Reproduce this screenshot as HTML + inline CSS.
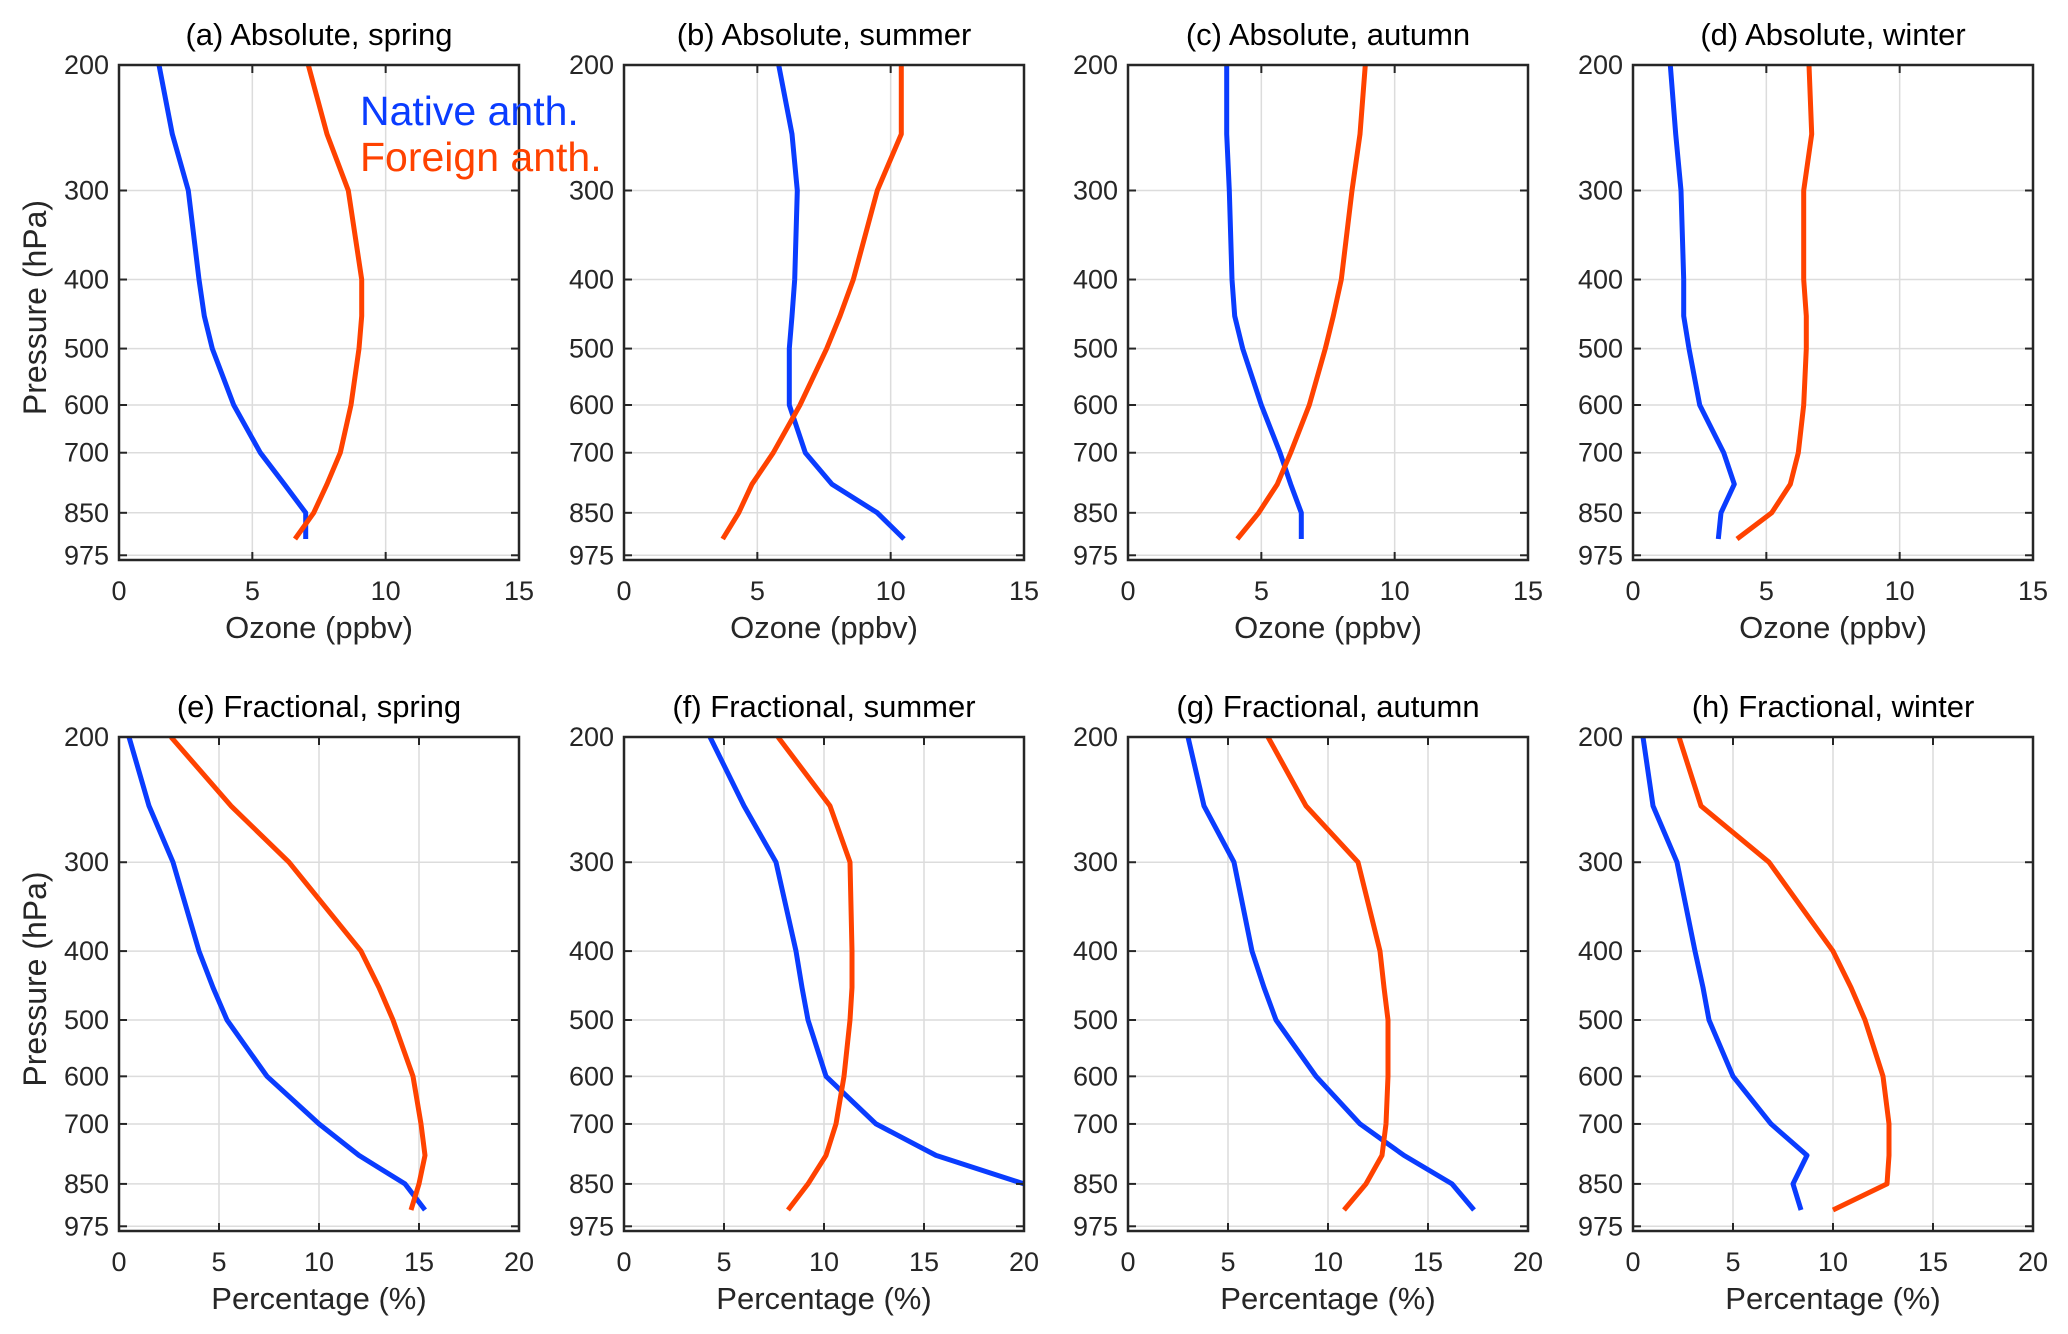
<!DOCTYPE html>
<html><head><meta charset="utf-8"><style>
html,body{margin:0;padding:0;background:#fff;}
svg{display:block;font-family:"Liberation Sans",Arial,sans-serif;}
</style></head><body>
<svg id="fig" width="2068" height="1334" viewBox="0 0 2068 1334" xmlns="http://www.w3.org/2000/svg"></svg>
<script>
const levels = [200,250,300,400,450,500,600,700,775,850,925];
const yTicks = [200,300,400,500,600,700,850,975];
const titles = ["(a) Absolute, spring","(b) Absolute, summer","(c) Absolute, autumn","(d) Absolute, winter",
"(e) Fractional, spring","(f) Fractional, summer","(g) Fractional, autumn","(h) Fractional, winter"];
const xTicksTop = [0,5,10,15];
const xTicksBottom = [0,5,10,15,20];
const nativeA = [1.5,2.0,2.6,3.0,3.2,3.5,4.3,5.3,6.2,7.0,7.0];
const foreignA = [7.1,7.8,8.6,9.1,9.1,9.0,8.7,8.3,7.8,7.3,6.6];
const nativeB = [5.8,6.3,6.5,6.4,6.3,6.2,6.2,6.8,7.8,9.5,10.5];
const foreignB = [10.4,10.4,9.5,8.6,8.1,7.6,6.6,5.6,4.8,4.3,3.7];
const nativeC = [3.7,3.7,3.8,3.9,4.0,4.3,5.0,5.7,6.1,6.5,6.5];
const foreignC = [8.9,8.7,8.4,8.0,7.7,7.4,6.8,6.1,5.6,4.9,4.1];
const nativeD = [1.4,1.6,1.8,1.9,1.9,2.1,2.5,3.4,3.8,3.3,3.2];
const foreignD = [6.6,6.7,6.4,6.4,6.5,6.5,6.4,6.2,5.9,5.2,3.9];
const nativeE = [0.5,1.5,2.7,4.0,4.7,5.4,7.4,10.0,12.0,14.3,15.3];
const foreignE = [2.6,5.6,8.5,12.1,13.0,13.7,14.7,15.1,15.3,15.0,14.6];
const nativeF = [4.3,6.0,7.6,8.6,8.9,9.2,10.1,12.6,15.6,20.0,22.0];
const foreignF = [7.7,10.3,11.3,11.4,11.4,11.3,11.0,10.6,10.1,9.2,8.2];
const nativeG = [3.0,3.8,5.3,6.2,6.8,7.4,9.4,11.6,13.8,16.2,17.3];
const foreignG = [7.0,8.9,11.5,12.6,12.8,13.0,13.0,12.9,12.7,11.9,10.8];
const nativeH = [0.5,1.0,2.2,3.1,3.5,3.8,5.0,6.9,8.7,8.0,8.4];
const foreignH = [2.3,3.4,6.8,10.0,10.9,11.6,12.5,12.8,12.8,12.7,10.0];

const natives=[nativeA,nativeB,nativeC,nativeD,nativeE,nativeF,nativeG,nativeH];
const foreigns=[foreignA,foreignB,foreignC,foreignD,foreignE,foreignF,foreignG,foreignH];
const NS="http://www.w3.org/2000/svg";
const svg=document.getElementById('fig');
function mk(tag,attrs,parent,text){const e=document.createElementNS(NS,tag);for(const k in attrs)e.setAttribute(k,attrs[k]);if(text!==undefined)e.textContent=text;(parent||svg).appendChild(e);return e;}
const lefts=[119,624,1128,1633];
const W=400;
const rows=[{top:65,bot:560},{top:737,bot:1231}];
const PMIN=200,PMAX=990;
for(let i=0;i<8;i++){
  const r=Math.floor(i/4),c=i%4;
  const L=lefts[c],R=L+W,T=rows[r].top,B=rows[r].bot;
  const xmax=r===0?15:20;
  const xt=r===0?xTicksTop:xTicksBottom;
  const xs=v=>L+v/xmax*W;
  const ys=p=>T+Math.log(p/PMIN)/Math.log(PMAX/PMIN)*(B-T);
  const g=mk('g',{});
  
  
  const clipId='clip'+i;
  const cp=mk('clipPath',{id:clipId},g);mk('rect',{x:L,y:T,width:W,height:B-T},cp);
  xt.forEach(v=>{if(v>0&&v<xmax){const l=mk('line',{x1:xs(v),x2:xs(v),y1:T,y2:B,stroke:'#dcdcdc','stroke-width':1.5},g);}});
  yTicks.forEach(p=>{const l=mk('line',{x1:L,x2:R,y1:ys(p),y2:ys(p),stroke:'#dcdcdc','stroke-width':1.5},g);});
  [[natives[i],'#0a3cff','native-anth-line'],[foreigns[i],'#ff4200','foreign-anth-line']].forEach(([arr,col,nm])=>{
    const d=arr.map((v,k)=>(k?'L':'M')+xs(v).toFixed(1)+','+ys(levels[k]).toFixed(1)).join(' ');
    const p=mk('path',{d:d,fill:'none',stroke:col,'stroke-width':5,'stroke-linejoin':'round','clip-path':'url(#'+clipId+')'},g);
    
    
  });
  xt.forEach(v=>{
    mk('line',{x1:xs(v),x2:xs(v),y1:B,y2:B-8,stroke:'#262626','stroke-width':2},g);
    mk('line',{x1:xs(v),x2:xs(v),y1:T,y2:T+8,stroke:'#262626','stroke-width':2},g);
    const t=mk('text',{x:xs(v),y:B+40,'font-size':27,'text-anchor':'middle',fill:'#262626'},g,String(v));
    
    
  });
  yTicks.forEach(p=>{
    mk('line',{x1:L,x2:L+8,y1:ys(p),y2:ys(p),stroke:'#262626','stroke-width':2},g);
    mk('line',{x1:R,x2:R-8,y1:ys(p),y2:ys(p),stroke:'#262626','stroke-width':2},g);
    const t=mk('text',{x:L-10,y:ys(p)+9,'font-size':27,'text-anchor':'end',fill:'#262626'},g,String(p));
    
    
  });
  const box=mk('rect',{x:L,y:T,width:W,height:B-T,fill:'none',stroke:'#262626','stroke-width':2.5},g);
  
  
  const tt=mk('text',{x:L+W/2,y:T-20,'font-size':31,'text-anchor':'middle',fill:'#000'},g,titles[i]);
  
  
  const xl=mk('text',{x:L+W/2,y:B+78,'font-size':31,'text-anchor':'middle',fill:'#262626'},g,r===0?'Ozone (ppbv)':'Percentage (%)');
  
  
  if(c===0){
    const cy=(T+B)/2-5;
    const yl=mk('text',{x:46,y:cy,'font-size':32,'text-anchor':'middle',fill:'#262626',transform:'rotate(-90 46 '+cy+')'},g,'Pressure (hPa)');
    
    
  }
}
const l1=mk('text',{x:360,y:125,'font-size':41,fill:'#0a3cff'},svg,'Native anth.');


const l2=mk('text',{x:360,y:171,'font-size':41,fill:'#ff4200'},svg,'Foreign anth.');


</script>
</body></html>
